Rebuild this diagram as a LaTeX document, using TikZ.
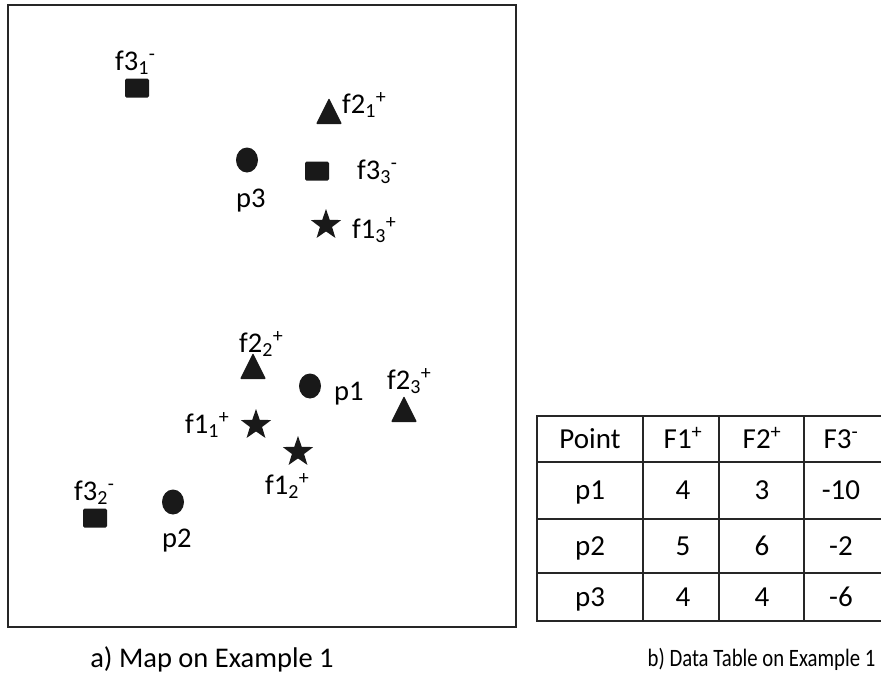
\documentclass[tikz,border=0pt]{standalone}
\usepackage{fontspec}
\setmainfont{Carlito}
\usetikzlibrary{shapes.geometric}

\tikzset{
  lab/.style={font=\fontsize{28.5}{33}\selectfont, inner sep=0pt, anchor=base west},
  cell/.style={font=\fontsize{29}{34}\selectfont, inner sep=0pt, anchor=base},
  sqmark/.style={fill=black!90, rectangle, rounded corners=1.5pt, minimum width=24pt, minimum height=19pt, inner sep=0pt},
  dotmark/.style={fill=black!90, ellipse, minimum width=22pt, minimum height=25pt, inner sep=0pt},
  trimark/.style={fill=black!90, isosceles triangle, isosceles triangle apex angle=53, shape border rotate=90, minimum height=26pt, inner sep=0pt, rounded corners=1pt},
  starmark/.style={fill=black!90, star, star points=5, star point ratio=2.5, minimum size=32pt, inner sep=0pt},
  gridline/.style={line width=1.2pt, black!85},
  border/.style={line width=2.6pt, black!85}
}
\newcommand{\feat}[3]{f#1\textsubscript{#2}\textsuperscript{#3}}

\begin{document}
\begin{tikzpicture}[x=1pt, y=-1pt]
    \useasboundingbox (0,0) rectangle (881,673);

    % Map frame
    \draw[line width=1.4pt, black!85] (8,5) rectangle (516,627);

    % Points
    \node[dotmark] (p1) at (310,386) {};
    \node[lab] (p1l) at (334,400) {p1};
    \node[dotmark] (p2) at (173,502) {};
    \node[lab] (p2l) at (162,547) {p2};
    \node[dotmark] (p3) at (247,160) {};
    \node[lab] (p3l) at (236,207) {p3};

    % Feature F1 (stars)
    \node[starmark] (f11) at (256,425) {};
    \node[lab] (f11l) at (185,433) {\feat{1}{1}{+}};
    \node[starmark] (f12) at (298,452) {};
    \node[lab] (f12l) at (265,494) {\feat{1}{2}{+}};
    \node[starmark] (f13) at (326,225) {};
    \node[lab] (f13l) at (352,238) {\feat{1}{3}{+}};

    % Feature F2 (triangles)
    \node[trimark] (f21) at (329,116) {};
    \node[lab] (f21l) at (342,113) {\feat{2}{1}{+}};
    \node[trimark] (f22) at (253,371) {};
    \node[lab] (f22l) at (239,352) {\feat{2}{2}{+}};
    \node[trimark] (f23) at (404,414) {};
    \node[lab] (f23l) at (387,389) {\feat{2}{3}{+}};

    % Feature F3 (squares)
    \node[sqmark] (f31) at (137,88) {};
    \node[lab] (f31l) at (115,70) {\feat{3}{1}{-}};
    \node[sqmark] (f32) at (95,518) {};
    \node[lab] (f32l) at (74,500) {\feat{3}{2}{-}};
    \node[sqmark] (f33) at (317,171) {};
    \node[lab] (f33l) at (357,179) {\feat{3}{3}{-}};

    % Data table
    \foreach \x in {643,719,804}
        \draw[gridline] (\x,416) -- (\x,621);
    \foreach \y in {462,519,573}
        \draw[gridline] (537,\y) -- (884,\y);
    \draw[border] (884,416) -- (537,416) -- (537,621) -- (884,621);

    \foreach \y/\nm/\va/\vb/\vc [count=\r] in {439/Point/{F1\textsuperscript{+}}/{F2\textsuperscript{+}}/{F3\textsuperscript{-}},
                                              490/p1/4/3/-10, 546/p2/5/6/-2, 597/p3/4/4/-6} {
        \node[cell] (c\r-1) at (590,\y+9) {\nm};
        \node[cell] (c\r-2) at (683,\y+9) {\va};
        \node[cell] (c\r-3) at (762,\y+9) {\vb};
        \node[cell] (c\r-4) at (841,\y+9) {\vc};
    }

    % Captions
    \node[font=\fontsize{28.5}{33}\selectfont] (capa) at (212,659) {a) Map on Example 1};
    \node[font=\fontsize{25}{30}\selectfont, anchor=east] (capb) at (879,659) {\scalebox{0.83}[1]{b) Data Table on Example 1}};
\end{tikzpicture}
\end{document}
